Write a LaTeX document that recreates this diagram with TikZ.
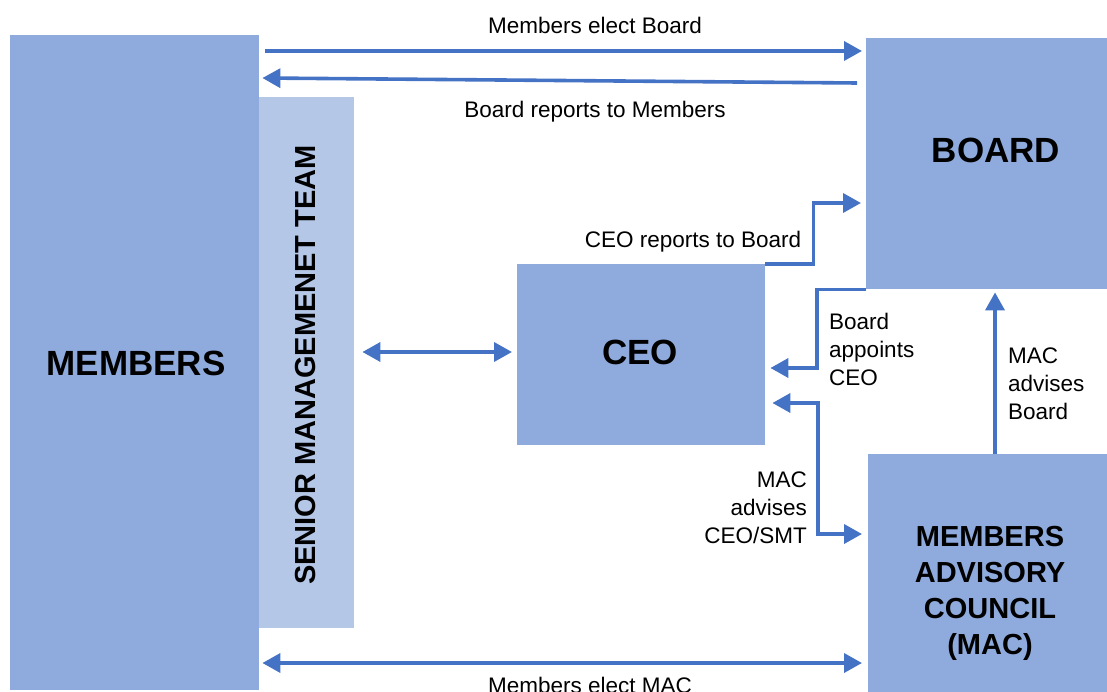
\documentclass[tikz,border=0pt]{standalone}
\usepackage{fontspec}
\setmainfont{Liberation Sans}
\usetikzlibrary{arrows.meta}
\definecolor{boxblue}{HTML}{8FAADC}
\definecolor{lightblue}{HTML}{B4C7E7}
\definecolor{arrowblue}{HTML}{4472C4}
\begin{document}
\begin{tikzpicture}[x=1pt,y=-1pt,
  box/.style={fill=boxblue,draw=none,inner sep=0pt,anchor=north west},
  title/.style={font=\fontsize{35}{42}\selectfont\bfseries},
  label/.style={font=\fontsize{22.5}{28}\selectfont,inner sep=0pt},
  tip/.style={Triangle[length=18pt,width=19pt]},
  arr/.style={draw=arrowblue,line width=3.6pt,-{Triangle[length=18pt,width=19pt]}},
  dblarr/.style={draw=arrowblue,line width=3.6pt,{Triangle[length=18pt,width=19pt]}-{Triangle[length=18pt,width=19pt]}}]
\useasboundingbox (0,0) rectangle (1107,692);

% blocks
\node[box,minimum width=249pt,minimum height=655pt] (members) at (10,35) {};
\node[box,fill=lightblue,minimum width=95pt,minimum height=531pt] (smt) at (259,97) {};
\node[box,minimum width=248pt,minimum height=181pt] (ceo) at (517,264) {};
\node[box,minimum width=241pt,minimum height=251pt] (board) at (866,38) {};
\node[box,minimum width=239pt,minimum height=238pt] (mac) at (868,454) {};

% block titles
\node[title] (tmembers) at (136,363) {MEMBERS};
\node[title] (tboard) at (996,150) {BOARD};
\node[title] (tceo) at (640,352) {CEO};
\node[font=\fontsize{29}{36}\selectfont\bfseries,align=center] (tmac) at (990,593)
  {MEMBERS\\ADVISORY\\COUNCIL\\(MAC)};
\node[font=\fontsize{29}{35}\selectfont\bfseries,rotate=90] (tsmt) at (306,365)
  {SENIOR MANAGEMENET TEAM};

% connectors
\draw[arr] ([xshift=6pt]members.east |- 0,51) -- ([xshift=-4pt]board.west |- 0,51);
\draw[arr] ([xshift=-9pt]board.west |- 0,83) -- ([xshift=3pt]members.east |- 0,78);
\draw[arr] (ceo.north east) -- ++(48,0) |- ([xshift=-5pt]board.west |- 0,203);
\draw[arr] (board.south west) -- ++(-49,0) |- ([xshift=5pt]ceo.east |- 0,368);
\draw[dblarr] ([xshift=7pt]ceo.east |- 0,403) -| (818,534) -- ([xshift=-6pt]mac.west |- 0,534);
\draw[arr] (mac.north -| 995,0) -- ([yshift=-3pt]board.south -| 995,0);
\draw[dblarr] ([xshift=8pt]smt.east |- 0,352) -- ([xshift=-5pt]ceo.west |- 0,352);
\draw[dblarr] ([xshift=3pt]members.east |- 0,663) -- ([xshift=-6pt]mac.west |- 0,663);

% connector labels
\node[label] (lelect) at (595,25) {Members elect Board};
\node[label] (lreport) at (595,112) {Board reports to Members};
\node[label] (lceo) at (693,242) {CEO reports to Board};
\node[label,anchor=west,align=left] (lappoint) at (829,349) {Board\\appoints\\CEO};
\node[label,anchor=east,align=right] (lmacceo) at (807,508) {MAC\\advises\\CEO/SMT};
\node[label,anchor=west,align=left] (lmacboard) at (1008,384) {MAC\\advises\\Board};
\node[label,anchor=base] (lmac) at (590,693) {Members elect MAC};
\end{tikzpicture}
\end{document}
